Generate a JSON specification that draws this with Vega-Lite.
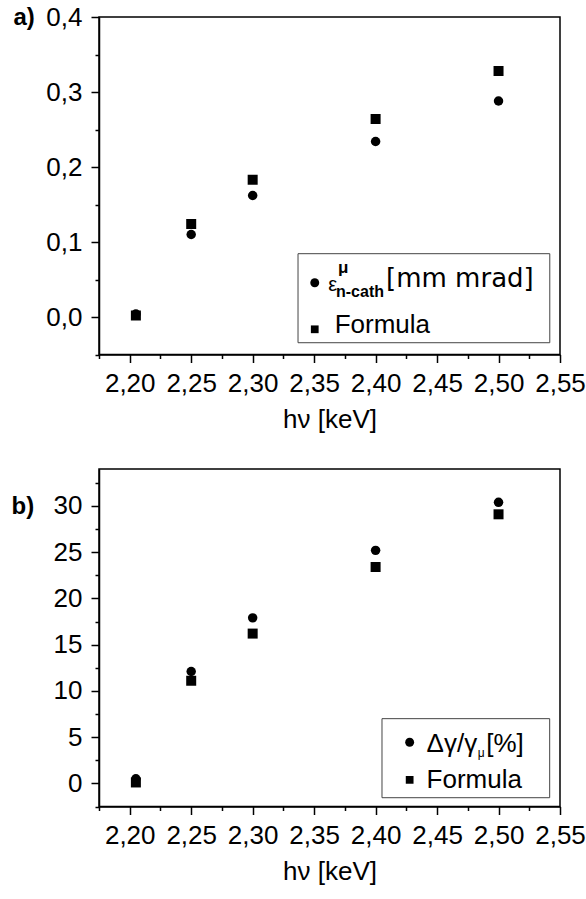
{
  "$schema": "https://vega.github.io/schema/vega-lite/v6.json",
  "padding": {"left": 10, "top": 3, "right": 0, "bottom": 0},
  "autosize": {"type": "pad"},
  "spacing": 34,
  "config": {
    "font": "Liberation Sans",
    "locale": {"number": {"decimal": ",", "thousands": ".", "grouping": [3], "currency": ["", " €"]}},
    "view": {"stroke": "black", "strokeWidth": 1.5},
    "mark": {"color": "black"},
    "axis": {
      "labelFont": "Liberation Sans", "labelFontSize": 26, "labelColor": "black",
      "titleFont": "Liberation Sans", "titleFontSize": 26, "titleColor": "black", "titleFontWeight": "normal",
      "domainColor": "black", "domainWidth": 1.5, "tickColor": "black", "tickWidth": 1.5, "tickSize": 8,
      "grid": false, "labelOverlap": false, "labelFlush": false
    },
    "text": {"font": "Liberation Sans", "color": "black"}
  },
  "datasets": {
    "one": [{}],
    "a": [
      {"series": "measured", "hv": 2.205, "val": 0.004},
      {"series": "measured", "hv": 2.25, "val": 0.110},
      {"series": "measured", "hv": 2.30, "val": 0.162},
      {"series": "measured", "hv": 2.40, "val": 0.234},
      {"series": "measured", "hv": 2.50, "val": 0.288},
      {"series": "formula", "hv": 2.205, "val": 0.002},
      {"series": "formula", "hv": 2.25, "val": 0.124},
      {"series": "formula", "hv": 2.30, "val": 0.183},
      {"series": "formula", "hv": 2.40, "val": 0.264},
      {"series": "formula", "hv": 2.50, "val": 0.328}
    ],
    "b": [
      {"series": "measured", "hv": 2.205, "val": 0.5},
      {"series": "measured", "hv": 2.25, "val": 12.1},
      {"series": "measured", "hv": 2.30, "val": 17.9},
      {"series": "measured", "hv": 2.40, "val": 25.2},
      {"series": "measured", "hv": 2.50, "val": 30.4},
      {"series": "formula", "hv": 2.205, "val": 0.1},
      {"series": "formula", "hv": 2.25, "val": 11.1},
      {"series": "formula", "hv": 2.30, "val": 16.2},
      {"series": "formula", "hv": 2.40, "val": 23.4},
      {"series": "formula", "hv": 2.50, "val": 29.1}
    ]
  },
  "vconcat": [
    {
      "width": 461,
      "height": 337.5,
      "resolve": {"axis": {"x": "independent", "y": "independent"}},
      "layer": [
        {
          "layer": [
            {
              "data": {"name": "a"},
              "mark": {"type": "point", "filled": true, "opacity": 1, "color": "black"},
              "encoding": {
                "x": {
                  "field": "hv", "type": "quantitative",
                  "scale": {"domain": [2.175, 2.55], "nice": false, "zero": false},
                  "axis": {
                    "title": "hν [keV]", "orient": "bottom",
                    "values": [2.2, 2.25, 2.3, 2.35, 2.4, 2.45, 2.5, 2.55],
                    "format": ".2f",
                    "labelPadding": 8,
                    "titlePadding": 10
                  }
                },
                "y": {
                  "field": "val", "type": "quantitative",
                  "scale": {"domain": [-0.05, 0.4], "nice": false, "zero": false},
                  "axis": {
                    "title": "a)", "orient": "left", "titleAngle": 0, "titleX": -86, "titleY": 0,
                    "titleAlign": "left", "titleBaseline": "middle", "titleFontWeight": "bold", "titleFontSize": 24,
                    "values": [0, 0.1, 0.2, 0.3, 0.4],
                    "format": ".1f",
                    "labelPadding": 9
                  }
                },
                "shape": {"field": "series", "type": "nominal", "scale": {"domain": ["measured", "formula"], "range": ["circle", "square"]}, "legend": null},
                "size": {"field": "series", "type": "nominal", "scale": {"domain": ["measured", "formula"], "range": [90, 100]}, "legend": null}
              }
            },
            {
              "data": {"name": "one"},
              "mark": {"type": "rect", "fill": "white", "stroke": "#444444", "strokeWidth": 1},
              "encoding": {
                "x": {"datum": 2.3369, "type": "quantitative"},
                "x2": {"datum": 2.5417},
                "y": {"datum": 0.0844, "type": "quantitative"},
                "y2": {"datum": -0.0343}
              }
            },
            {
              "data": {"name": "one"},
              "mark": {"type": "point", "shape": "circle", "filled": true, "opacity": 1, "color": "black", "size": 80},
              "encoding": {
                "x": {"datum": 2.3505, "type": "quantitative"},
                "y": {"datum": 0.0457, "type": "quantitative"}
              }
            },
            {
              "data": {"name": "one"},
              "mark": {"type": "point", "shape": "square", "filled": true, "opacity": 1, "color": "black", "size": 60},
              "encoding": {
                "x": {"datum": 2.3505, "type": "quantitative"},
                "y": {"datum": -0.0164, "type": "quantitative"}
              }
            },
            {
              "data": {"name": "one"},
              "mark": {"type": "text", "text": "ε", "align": "left", "baseline": "alphabetic", "fontSize": 20, "fill": "black"},
              "encoding": {
                "x": {"datum": 2.3615, "type": "quantitative"},
                "y": {"datum": 0.0347, "type": "quantitative"}
              }
            },
            {
              "data": {"name": "one"},
              "mark": {"type": "text", "text": "μ", "align": "left", "baseline": "alphabetic", "fontSize": 17, "fontWeight": "bold", "fill": "black"},
              "encoding": {
                "x": {"datum": 2.3694, "type": "quantitative"},
                "y": {"datum": 0.0587, "type": "quantitative"}
              }
            },
            {
              "data": {"name": "one"},
              "mark": {"type": "text", "text": "n-cath", "align": "left", "baseline": "alphabetic", "fontSize": 16, "fontWeight": "bold", "fill": "black"},
              "encoding": {
                "x": {"datum": 2.3678, "type": "quantitative"},
                "y": {"datum": 0.027, "type": "quantitative"}
              }
            },
            {
              "data": {"name": "one"},
              "mark": {"type": "text", "text": "[mm mrad]", "align": "left", "baseline": "alphabetic", "fontSize": 26, "font": "DejaVu Sans", "fill": "black"},
              "encoding": {
                "x": {"datum": 2.4085, "type": "quantitative"},
                "y": {"datum": 0.04, "type": "quantitative"}
              }
            },
            {
              "data": {"name": "one"},
              "mark": {"type": "text", "text": "Formula", "align": "left", "baseline": "alphabetic", "fontSize": 26, "fill": "black"},
              "encoding": {
                "x": {"datum": 2.3667, "type": "quantitative"},
                "y": {"datum": -0.0209, "type": "quantitative"}
              }
            }
          ]
        },
        {
          "data": {"name": "one"},
          "mark": {"type": "point", "opacity": 0},
          "encoding": {
            "x": {
              "datum": 2.3, "type": "quantitative",
              "axis": {"orient": "bottom", "title": null, "labels": false, "domain": false, "tickSize": 4,
                       "values": [2.175, 2.225, 2.275, 2.325, 2.375, 2.425, 2.475, 2.525]}
            },
            "y": {
              "datum": 0.1, "type": "quantitative",
              "axis": {"orient": "left", "title": null, "labels": false, "domain": false, "tickSize": 4,
                       "values": [-0.05, 0.05, 0.15, 0.25, 0.35]}
            }
          }
        }
      ]
    },
    {
      "width": 461,
      "height": 337.5,
      "resolve": {"axis": {"x": "independent", "y": "independent"}},
      "layer": [
        {
          "layer": [
            {
              "data": {"name": "b"},
              "mark": {"type": "point", "filled": true, "opacity": 1, "color": "black"},
              "encoding": {
                "x": {
                  "field": "hv", "type": "quantitative",
                  "scale": {"domain": [2.175, 2.55], "nice": false, "zero": false},
                  "axis": {
                    "title": "hν [keV]", "orient": "bottom",
                    "values": [2.2, 2.25, 2.3, 2.35, 2.4, 2.45, 2.5, 2.55],
                    "format": ".2f",
                    "labelPadding": 8,
                    "titlePadding": 10
                  }
                },
                "y": {
                  "field": "val", "type": "quantitative",
                  "scale": {"domain": [-2.5, 34], "nice": false, "zero": false},
                  "axis": {
                    "title": "b)", "orient": "left", "titleAngle": 0, "titleX": -88, "titleY": 37,
                    "titleAlign": "left", "titleBaseline": "middle", "titleFontWeight": "bold", "titleFontSize": 24,
                    "values": [0, 5, 10, 15, 20, 25, 30],
                    "format": "d",
                    "labelPadding": 9
                  }
                },
                "shape": {"field": "series", "type": "nominal", "scale": {"domain": ["measured", "formula"], "range": ["circle", "square"]}, "legend": null},
                "size": {"field": "series", "type": "nominal", "scale": {"domain": ["measured", "formula"], "range": [90, 100]}, "legend": null}
              }
            },
            {
              "data": {"name": "one"},
              "mark": {"type": "rect", "fill": "white", "stroke": "#444444", "strokeWidth": 1},
              "encoding": {
                "x": {"datum": 2.4052, "type": "quantitative"},
                "x2": {"datum": 2.5416},
                "y": {"datum": 7.0, "type": "quantitative"},
                "y2": {"datum": -1.55}
              }
            },
            {
              "data": {"name": "one"},
              "mark": {"type": "point", "shape": "circle", "filled": true, "opacity": 1, "color": "black", "size": 80},
              "encoding": {
                "x": {"datum": 2.4277, "type": "quantitative"},
                "y": {"datum": 4.45, "type": "quantitative"}
              }
            },
            {
              "data": {"name": "one"},
              "mark": {"type": "point", "shape": "square", "filled": true, "opacity": 1, "color": "black", "size": 60},
              "encoding": {
                "x": {"datum": 2.4277, "type": "quantitative"},
                "y": {"datum": 0.38, "type": "quantitative"}
              }
            },
            {
              "data": {"name": "one"},
              "mark": {"type": "text", "text": "Δγ/γ", "align": "left", "baseline": "alphabetic", "fontSize": 26, "fill": "black"},
              "encoding": {
                "x": {"datum": 2.4415, "type": "quantitative"},
                "y": {"datum": 3.35, "type": "quantitative"}
              }
            },
            {
              "data": {"name": "one"},
              "mark": {"type": "text", "text": "μ", "align": "left", "baseline": "alphabetic", "fontSize": 12, "fill": "black"},
              "encoding": {
                "x": {"datum": 2.4830, "type": "quantitative"},
                "y": {"datum": 2.8, "type": "quantitative"}
              }
            },
            {
              "data": {"name": "one"},
              "mark": {"type": "text", "text": "[%]", "align": "left", "baseline": "alphabetic", "fontSize": 26, "fill": "black"},
              "encoding": {
                "x": {"datum": 2.4900, "type": "quantitative"},
                "y": {"datum": 3.35, "type": "quantitative"}
              }
            },
            {
              "data": {"name": "one"},
              "mark": {"type": "text", "text": "Formula", "align": "left", "baseline": "alphabetic", "fontSize": 26, "fill": "black"},
              "encoding": {
                "x": {"datum": 2.4415, "type": "quantitative"},
                "y": {"datum": -0.55, "type": "quantitative"}
              }
            }
          ]
        },
        {
          "data": {"name": "one"},
          "mark": {"type": "point", "opacity": 0},
          "encoding": {
            "x": {
              "datum": 2.3, "type": "quantitative",
              "axis": {"orient": "bottom", "title": null, "labels": false, "domain": false, "tickSize": 4,
                       "values": [2.175, 2.225, 2.275, 2.325, 2.375, 2.425, 2.475, 2.525]}
            },
            "y": {
              "datum": 10, "type": "quantitative",
              "axis": {"orient": "left", "title": null, "labels": false, "domain": false, "tickSize": 4,
                       "values": [-2.5, 2.5, 7.5, 12.5, 17.5, 22.5, 27.5, 32.5]}
            }
          }
        }
      ]
    }
  ]
}
